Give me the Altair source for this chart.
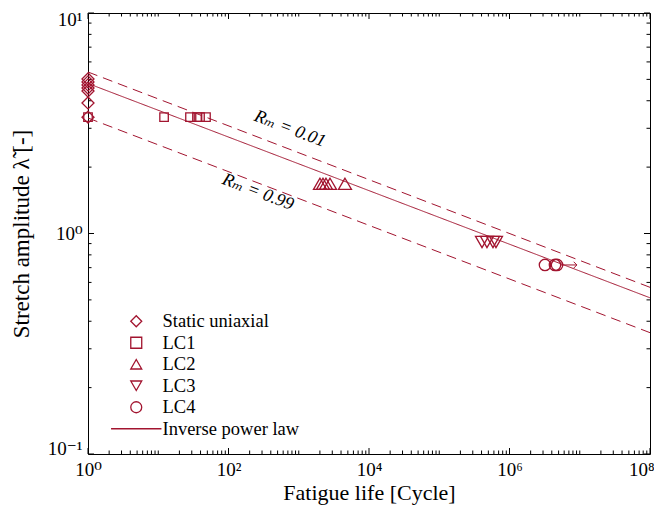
import altair as alt
import pandas as pd

RED = "#A2142F"
FONT = "Liberation Serif, Times New Roman, DejaVu Serif, serif"
W, H = 562, 441

# ---- experimental data (N = cycles to failure, lam = stretch amplitude) ----
static_N = [1, 1, 1, 1, 1, 1, 1]
static_lam = [5.02, 4.87, 4.72, 4.57, 4.43, 3.91, 3.37]
lc1_N = [1, 12.1, 28.3, 35.6, 39.3, 47.8]
lc1_lam = [3.37, 3.37, 3.37, 3.37, 3.37, 3.37]
lc2_N = [2006, 2215, 2443, 2786, 4550]
lc2_lam = [1.68, 1.68, 1.68, 1.68, 1.68]
lc3_N = [4.06e5, 4.78e5, 5.82e5, 6.42e5]
lc3_lam = [0.915, 0.915, 0.915, 0.915]
lc4_N = [3.2e6, 4.44e6, 4.75e6]
lc4_lam = [0.72, 0.72, 0.72]

# ---- inverse power law and probability bounds (straight on log-log) ----
line_N = [1, 1e8]
fit_lam = [4.79, 0.511]
r001_lam = [5.40, 0.570]
r099_lam = [3.34, 0.355]

# ---- run-out arrow ----
arrow_N = [5.3e6, 9.1e6]
arrow_lam = [0.72, 0.72]

# ---- annotations ----
ann_text = ["Rₘ = 0.01", "Rₘ = 0.99"]
ann_N = [751, 263]
ann_lam = [2.98, 1.54]

series = ["Static uniaxial", "LC1", "LC2", "LC3", "LC4", "Inverse power law"]
shapes = ["diamond", "square", "triangle-up", "triangle-down", "circle", "M -4.6 0 L 4.6 0"]
sizes = [144, 72, 169, 169, 130]

x_labels = [1, 1e2, 1e4, 1e6, 1e8]
y_labels = [0.1, 1, 10]

lrows = []
for name, ls, style in [("fit", fit_lam, "solid"), ("r001", r001_lam, "dashed"), ("r099", r099_lam, "dashed")]:
    for n, l in zip(line_N, ls):
        lrows.append({"name": name, "style": style, "N": n, "lam": l})
lines = pd.DataFrame(lrows)

arrow = pd.DataFrame({"N": arrow_N, "lam": arrow_lam})
ann = pd.DataFrame({"text": ann_text, "N": ann_N, "lam": ann_lam})

xs = alt.Scale(type="log", domain=[1, 1e8], nice=False)
ys = alt.Scale(type="log", domain=[0.1, 10], nice=False)

x_axis = alt.Axis(
    values=x_labels, ticks=False, domain=False, grid=False, labelFlush=False, labelOverlap=False,
    labelExpr="'10' + (datum.value < 10 ? '⁰' : datum.value < 1000 ? '²' : datum.value < 1e5 ? '⁴' : datum.value < 1e7 ? '⁶' : '⁸')",
    labelAlign={"condition": {"test": "datum.value > 1e7", "value": "right"}, "value": "center"},
    labelOffset={"condition": {"test": "datum.value > 1e7", "value": 4}, "value": 0},
    labelFont=FONT, labelFontSize=19, labelColor="black", labelPadding=6,
    title="Fatigue life [Cycle]", titleFont=FONT, titleFontSize=22, titleFontWeight="normal",
    titleColor="black", titlePadding=3,
)
y_axis = alt.Axis(
    values=y_labels, ticks=False, domain=False, grid=False, labelFlush=False, labelOverlap=False,
    labelExpr="'10' + (datum.value < 0.5 ? '⁻¹' : datum.value < 5 ? '⁰' : '¹')",
    labelOffset={"condition": {"test": "datum.value > 5", "value": 6},
                 "value": 0},
    labelBaseline={"condition": {"test": "datum.value < 0.5", "value": "alphabetic"}, "value": "middle"},
    labelFont=FONT, labelFontSize=19, labelColor="black", labelPadding=6,
    title="Stretch amplitude λ̃ [-]", titleFont=FONT, titleFontSize=23, titleFontWeight="normal",
    titleColor="black", titlePadding=14,
)

X = alt.X("N:Q", scale=xs, axis=x_axis)
Y = alt.Y("lam:Q", scale=ys, axis=y_axis)

line_layer = alt.Chart(lines).mark_line(color=RED, strokeWidth=1).encode(
    x=X, y=Y, detail="name:N",
    strokeDash=alt.StrokeDash("style:N", scale=alt.Scale(domain=["solid", "dashed"], range=[[1, 0], [10, 6]]), legend=None),
)

legend = alt.Legend(title=None, orient="none", legendX=39, legendY=299,
                    symbolSize=120, symbolStrokeWidth=1.3, symbolStrokeColor=RED,
                    symbolFillColor="transparent", labelFont=FONT, labelFontSize=18.5,
                    labelColor="black", labelOffset=17, rowPadding=2.5, padding=0)
shape_enc = alt.Shape("series:N", scale=alt.Scale(domain=series, range=shapes), legend=legend)

point_layers = []
for name, Ns, ls, sz in [("Static uniaxial", static_N, static_lam, sizes[0]), ("LC1", lc1_N, lc1_lam, sizes[1]),
                         ("LC2", lc2_N, lc2_lam, sizes[2]), ("LC3", lc3_N, lc3_lam, sizes[3]),
                         ("LC4", lc4_N, lc4_lam, sizes[4])]:
    d = pd.DataFrame({"series": [name] * len(Ns), "N": Ns, "lam": ls})
    point_layers.append(
        alt.Chart(d).mark_point(filled=False, strokeWidth=1.3, color=RED, opacity=1, size=sz).encode(
            x=X, y=Y, shape=shape_enc)
    )

arrow_line = alt.Chart(arrow).mark_line(color=RED, strokeWidth=1).encode(x=X, y=Y)
arrow_head = alt.Chart(arrow.tail(1)).mark_point(
    shape="M -1 -1 L 0 0 L -1 1", filled=False, size=40, strokeWidth=1, color=RED, opacity=1
).encode(x=X, y=Y)

text_layer = alt.Chart(ann).mark_text(font=FONT, fontSize=18, fontStyle="italic", angle=21, color="black").encode(
    x=X, y=Y, text="text:N")

# ---- inward tick marks on all four sides ----
x_major = [1, 1e2, 1e4, 1e6, 1e8]
x_minor = [m * 10 ** k for k in range(8) for m in range(2, 10)] + [10, 1e3, 1e5, 1e7]
y_major = [0.1, 1, 10]
y_minor = [m * 10 ** k for k in (-1, 0) for m in range(2, 10)]


def xticks(vals, length):
    d = pd.DataFrame({"N": vals})
    b = alt.Chart(d).mark_rule(color="black", strokeWidth=1).encode(
        x=X, y=alt.value(H), y2=alt.value(H - length))
    t = alt.Chart(d).mark_rule(color="black", strokeWidth=1).encode(
        x=X, y=alt.value(0), y2=alt.value(length))
    return [b, t]


def yticks(vals, length):
    d = pd.DataFrame({"lam": vals})
    l = alt.Chart(d).mark_rule(color="black", strokeWidth=1).encode(
        y=Y, x=alt.value(0), x2=alt.value(length))
    r = alt.Chart(d).mark_rule(color="black", strokeWidth=1).encode(
        y=Y, x=alt.value(W), x2=alt.value(W - length))
    return [l, r]


ticks = xticks(x_major, 6) + xticks(x_minor, 3.5) + yticks(y_major, 6) + yticks(y_minor, 3.5)

chart = alt.layer(line_layer, *ticks, arrow_line, arrow_head, *point_layers, text_layer).properties(
    width=W, height=H,
    autosize=alt.AutoSizeParams(type="none"),
    padding={"left": 80, "top": 5, "right": 4, "bottom": 55},
    background="white",
).configure_view(stroke="black", strokeWidth=1)

chart.save("out.html", embed_options={"renderer": "svg", "actions": False})
